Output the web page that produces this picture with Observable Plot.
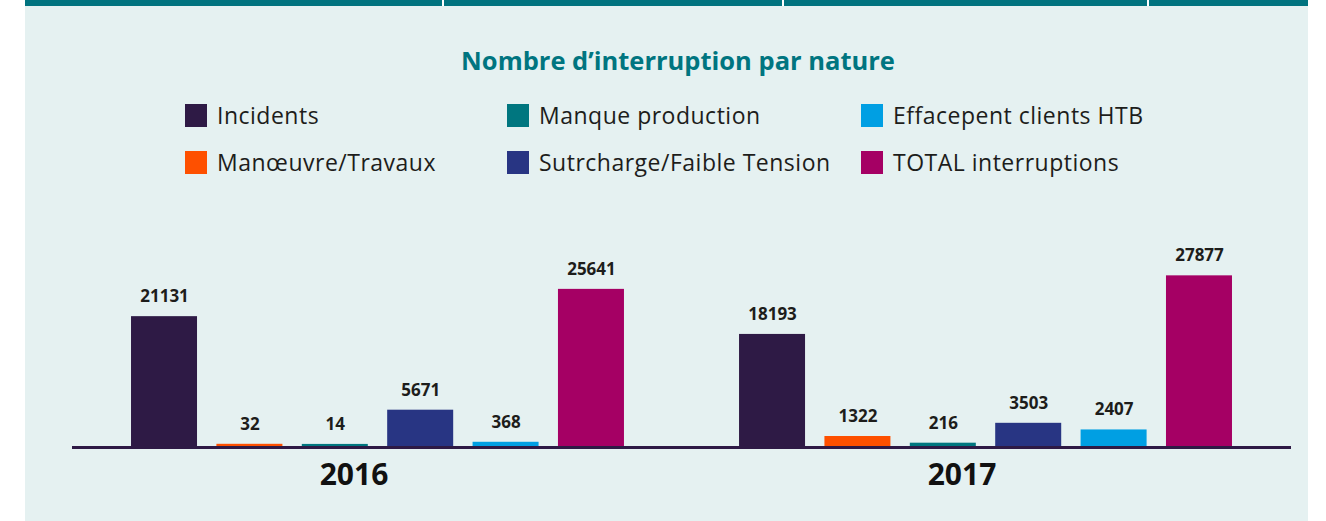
<!DOCTYPE html>
<html>
<head>
<meta charset="utf-8">
<script src="https://cdn.jsdelivr.net/npm/d3@7"></script>
<script src="https://cdn.jsdelivr.net/npm/@observablehq/plot@0.6"></script>
<style>
  html, body { margin: 0; padding: 0; background: #ffffff; }
  #root { position: relative; width: 1326px; height: 521px; overflow: hidden; font-family: "Open Sans", sans-serif; }
  .band { position: absolute; left: 25px; top: 0; width: 1283px; height: 6px; background: #00737f; }
  .band-line { position: absolute; top: 0; width: 2px; height: 6px; background: #ffffff; }
  .panel { position: absolute; left: 25px; top: 6px; width: 1283px; height: 515px; background: #e5f1f1; }
  .title { position: absolute; left: 0; width: 1356px; top: 42px; text-align: center; font-weight: 700; font-size: 25.5px; color: #007580; line-height: 36px; }
  .leg { position: absolute; display: flex; align-items: center; height: 30px; font-size: 23px; letter-spacing: 0.5px; color: #1d1d1b; white-space: nowrap; }
  .leg .sw { width: 22px; height: 23px; margin-right: 10px; }
  #chart { position: absolute; left: 0; top: 200px; }
</style>
</head>
<body>
<div id="root">
  <div class="panel"></div>
  <div class="band"></div>
  <div class="band-line" style="left:442px"></div>
  <div class="band-line" style="left:782px"></div>
  <div class="band-line" style="left:1147px"></div>
  <div class="title">Nombre d’interruption par nature</div>
  <div id="legend"></div>
  <div id="chart"></div>
</div>
<script>
const categories = ["Incidents", "Manœuvre/Travaux", "Manque production", "Sutrcharge/Faible Tension", "Effacepent clients HTB", "TOTAL interruptions"];
const years = ["2016", "2017"];
const values2016 = [21131, 32, 14, 5671, 368, 25641];
const values2017 = [18193, 1322, 216, 3503, 2407, 27877];
const colors = ["#2e1a45", "#fe5000", "#00767f", "#283583", "#009fe3", "#a50064"];

const rows = [];
years.forEach((year, yi) => {
  const vals = yi === 0 ? values2016 : values2017;
  categories.forEach((cat, ci) => rows.push({year, cat, value: vals[ci]}));
});

// Legend
const legCols = [185, 507, 861];
const legRows = [100, 147];
const legend = document.getElementById("legend");
categories.forEach((cat, i) => {
  const d = document.createElement("div");
  d.className = "leg";
  d.style.left = legCols[Math.floor(i / 2)] + "px";
  d.style.top = legRows[i % 2] + "px";
  d.innerHTML = `<div class="sw" style="background:${colors[i]}"></div><span>${cat}</span>`;
  legend.appendChild(d);
});

const chart = Plot.plot({
  width: 1326,
  height: 321,
  marginLeft: 75,
  marginRight: 38,
  marginTop: 4,
  marginBottom: 75,
  style: {background: "transparent", fontFamily: "Open Sans, sans-serif", color: "#1d1d1b"},
  facet: {data: rows, x: "year"},
  fx: {domain: years, paddingInner: 0.005, paddingOuter: 0, round: false, axis: null},
  x: {domain: categories, paddingInner: 0.227, paddingOuter: 0.656, round: false, axis: null},
  y: {domain: [0, 40000], axis: null},
  color: {domain: categories, range: colors},
  marks: [
    Plot.ruleY([0], {stroke: "#2e1a45", strokeWidth: 3, dy: 1, insetLeft: -3, insetRight: -3, shapeRendering: "crispEdges"}),
    Plot.barY(rows, {x: "cat", y: "value", fill: "cat", insetTop: -2}),
    Plot.text(rows, {x: "cat", y: "value", text: d => String(d.value), dy: -22, fontSize: 17, fontWeight: 700, fill: "#1d1d1b"}),
    Plot.text(rows, Plot.selectFirst({text: "year", frameAnchor: "bottom", dy: 38, dx: -24, fontSize: 30, fontWeight: 700, fill: "#111111"}))
  ]
});
document.getElementById("chart").appendChild(chart);
</script>
</body>
</html>
